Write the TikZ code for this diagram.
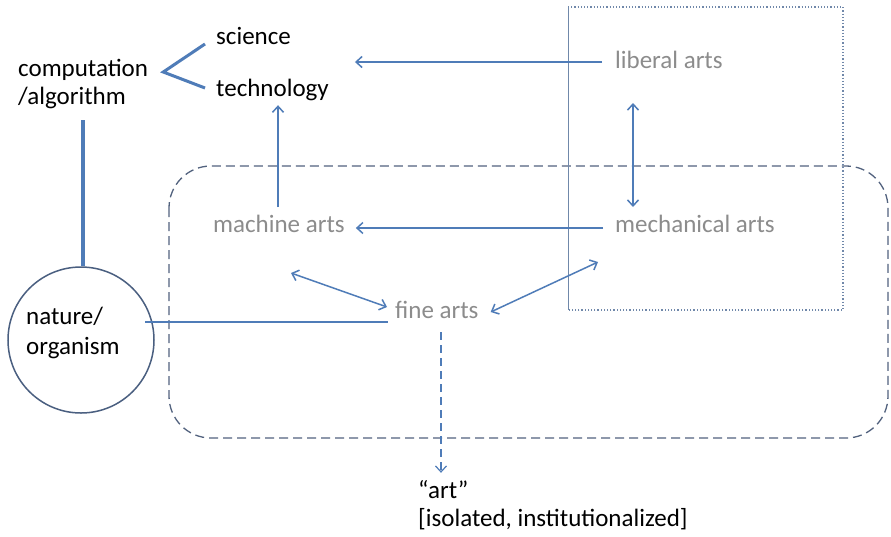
\documentclass[tikz,border=0pt]{standalone}
\usepackage{fontspec}
\setmainfont{Carlito}
\usetikzlibrary{arrows.meta,calc}
\definecolor{lineblue}{HTML}{4F7CB8}
\definecolor{artgray}{HTML}{8C8C8C}
\definecolor{boxgray}{HTML}{52627E}
\definecolor{dotblue}{HTML}{7088AA}
\definecolor{circgray}{HTML}{4A5F80}
\tikzset{
  txt/.style={anchor=west, inner sep=0pt, text height=17pt, text depth=5pt, font=\fontsize{25}{28}\selectfont},
  blk/.style={txt, text=black},
  gry/.style={txt, text=artgray},
  conn/.style={draw=lineblue, line width=1.5pt},
  arr/.style={conn, -{Straight Barb[length=6pt,width=11pt,line width=1.5pt]}},
  darr/.style={conn, {Straight Barb[length=6pt,width=11pt,line width=1.5pt]}-{Straight Barb[length=6pt,width=11pt,line width=1.5pt]}},
  dasharr/.style={draw=lineblue, line width=1.2pt, dash pattern=on 8pt off 5pt, -{Straight Barb[length=6pt,width=11pt,line width=1.2pt]}},
}
\begin{document}
\begin{tikzpicture}[x=1pt,y=-1pt]
\useasboundingbox[fill=white] (0,0) rectangle (891,536);
% boxes
\draw[boxgray, line width=1.3pt, dash pattern=on 9pt off 5pt, rounded corners=42pt] (169,166) rectangle (888,438);
\draw[dotblue, line width=1.2pt, dotted] (568,7) -- (843,7) -- (843,310) -- (568,310);
\draw[dotblue, line width=1pt] (568,7) -- (568,310);
% nodes
\node[blk] (sci) at (216,38) {science};
\node[blk] (tech) at (216,90) {technology};
\node[blk] (comp) at (18,70) {computation};
\node[blk] (alg) at (18,98) {/algorithm};
\node[draw=circgray, line width=1.5pt, circle, minimum size=146pt, inner sep=0pt] (nat) at (81,340) {};
\node[blk] (nat1) at (26,318) {nature/};
\node[blk] (nat2) at (26,348) {organism};
\node[gry] (lib) at (615,62) {liberal arts};
\node[gry] (mech) at (615,226) {mechanical arts};
\node[gry] (mach) at (213,226) {machine arts};
\node[gry] (fine) at (395,312) {fine arts};
\node[blk] (art) at (418,492) {“art”};
\node[blk] (inst) at (418,520) {[isolated, institutionalized]};
% connectors
\draw[lineblue, line width=3pt] ($(sci.west)+(-11,6)$) -- ($(comp.east)+(15,2)$) -- ($(tech.west)+(-11,-2)$);
\draw[lineblue, line width=4pt] ($(nat.north |- alg.south)+(2,11)$) -- ($(nat.north)+(2,0)$);
\draw[conn] ($(nat.center)+(64,-18)$) -- ($(fine.west)+(-7,10)$);
\draw[arr] ($(lib.west)+(-13,0)$) -- ($(tech.east |- lib.west)+(26,0)$);
\draw[darr] ($(lib.west)+(18,41)$) -- ($(mech.west)+(18,-19)$);
\draw[arr] ($(mech.west)+(-12,2)$) -- ($(mach.east)+(11,2)$);
\draw[arr] ($(mach.west)+(65,-19)$) -- ($(tech.west |- tech.south)+(62,4)$);
\draw[darr] ($(mach.west)+(78,47)$) -- ($(fine.west)+(-8,-5)$);
\draw[darr] ($(fine.east)+(12,0)$) -- ($(mech.west)+(-17,36)$);
\draw[dasharr] ($(fine.west)+(46,20)$) -- ($(fine.west |- art.north)+(46,-8)$);
\end{tikzpicture}
\end{document}
